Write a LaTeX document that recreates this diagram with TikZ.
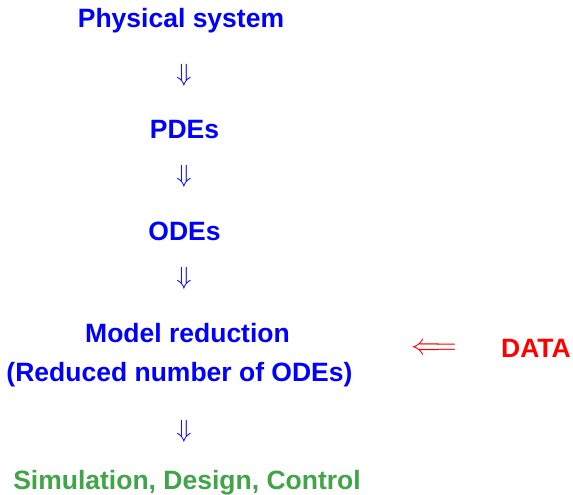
\documentclass[tikz,border=0pt]{standalone}
\usepackage{graphicx}
\usepackage{fontspec}
\setmainfont{Liberation Sans}
\definecolor{tblue}{RGB}{0,0,255}
\definecolor{tred}{RGB}{255,0,0}
\definecolor{tgreen}{RGB}{64,164,72}
\begin{document}
\begin{tikzpicture}[x=1pt,y=-1pt,
  lbl/.style={font=\fontsize{26.5}{30}\selectfont\bfseries, inner sep=0pt, anchor=base},
  arr/.style={font=\fontsize{26}{30}\selectfont, inner sep=0pt, anchor=center}]
\useasboundingbox (0,0) rectangle (573,495);
\node[lbl, text=tblue] (phys) at (181,28) {Physical system};
\node[arr, text=tblue] (a1) at (184,75) {$\Downarrow$};
\node[lbl, text=tblue] (pde) at (184.5,138) {PDEs};
\node[arr, text=tblue] (a2) at (184,176) {$\Downarrow$};
\node[lbl, text=tblue] (ode) at (184.5,240) {ODEs};
\node[arr, text=tblue] (a3) at (184,278) {$\Downarrow$};
\node[lbl, text=tblue] (mr) at (187.5,342) {Model reduction};
\node[lbl, text=tblue] (red) at (179.5,381) {(Reduced number of ODEs)};
\node[arr, text=tred] (la) at (434,349) {\scalebox{1.17}{$\Longleftarrow$}};
\node[lbl, text=tred] (data) at (536,357) {DATA};
\node[arr, text=tblue] (a4) at (184,431) {$\Downarrow$};
\node[lbl, text=tgreen] (sim) at (187,489) {Simulation, Design, Control};
\end{tikzpicture}
\end{document}
